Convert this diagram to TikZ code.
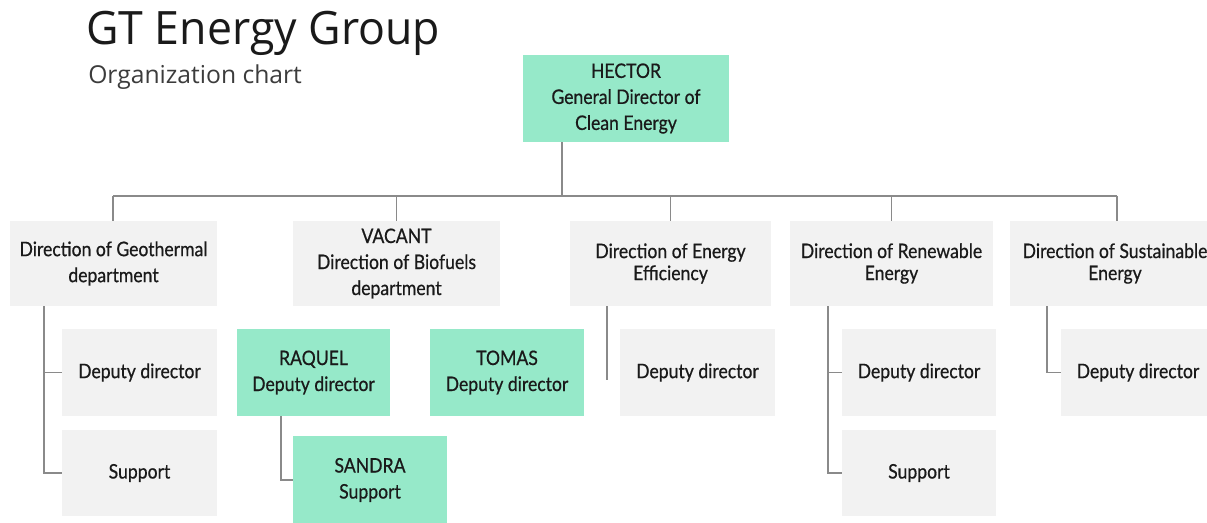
\documentclass[tikz,border=0pt]{standalone}
\usepackage{fontspec}
\newfontfamily\titlefont[FakeStretch=0.97]{Open Sans}
\newfontfamily\subfont[FakeStretch=1.0]{Open Sans}
\newfontfamily\boxfont[FakeStretch=0.88,FakeBold=0.6]{Lato}
\definecolor{mint}{HTML}{96E9C9}
\definecolor{lgray}{HTML}{F2F2F2}
\definecolor{linegray}{HTML}{8A8A8A}
\definecolor{txt}{HTML}{1A1A1A}
\tikzset{
  card/.style={inner sep=0pt, align=center, text=txt,
    font=\boxfont\fontsize{15pt}{19.5pt}\selectfont},
  tight/.style={font=\boxfont\fontsize{15pt}{16.5pt}\selectfont},
  graycard/.style={card, fill=lgray},
  mintcard/.style={card, fill=mint},
  link/.style={draw=linegray, line width=1pt}
}
\begin{document}
\begin{tikzpicture}[x=0.75pt,y=-0.75pt]
\useasboundingbox (0,0) rectangle (1207,523);
\fill[white] (0,0) rectangle (1207,523);
\begin{scope}
\clip (0,0) rectangle (1207,523);
% titles
\node[anchor=base west, inner sep=0pt, font=\titlefont\fontsize{34.5pt}{40pt}\selectfont, text=txt] (title) at (86,45) {GT Energy Group};
\node[anchor=base west, inner sep=0pt, font=\subfont\fontsize{18.5pt}{22pt}\selectfont, text=txt!85] (subtitle) at (88,84) {Organization chart};
% top
\node[mintcard, minimum width=154.5pt, minimum height=65.25pt] (hector) at (626,98.5) {HECTOR\\General Director of\\Clean Energy};
% level 2
\node[graycard, minimum width=155.25pt, minimum height=63.75pt] (geo) at (113.5,263.5) {Direction of Geothermal\\department};
\node[graycard, minimum width=155.25pt, minimum height=63.75pt] (bio) at (396.5,263.5) {VACANT\\Direction of Biofuels\\department};
\node[graycard, tight, minimum width=150.75pt, minimum height=63.75pt] (eff) at (670.5,263.5) {Direction of Energy\\Efficiency};
\node[graycard, tight, minimum width=152.25pt, minimum height=63.75pt] (ren) at (891.5,263.5) {Direction of Renewable\\Energy};
\node[graycard, tight, minimum width=157.5pt, minimum height=63.75pt] (sus) at (1115,263.5) {Direction of Sustainable\\Energy};
% level 3
\node[graycard, minimum width=116.25pt, minimum height=65.25pt] (geodep) at (139.5,372.5) {Deputy director};
\node[graycard, minimum width=116.25pt, minimum height=64.5pt] (geosup) at (139.5,473) {Support};
\node[mintcard, minimum width=114.75pt, minimum height=65.25pt] (raquel) at (313.5,372.5) {RAQUEL\\Deputy director};
\node[mintcard, minimum width=115.5pt, minimum height=65.25pt] (tomas) at (507,372.5) {TOMAS\\Deputy director};
\node[mintcard, minimum width=115.5pt, minimum height=65.25pt] (sandra) at (370,480) {SANDRA\\Support};
\node[graycard, minimum width=116.25pt, minimum height=65.25pt] (effdep) at (697.5,372.5) {Deputy director};
\node[graycard, minimum width=115.5pt, minimum height=65.25pt] (rendep) at (919,372.5) {Deputy director};
\node[graycard, minimum width=115.5pt, minimum height=64.5pt] (rensup) at (919,473) {Support};
\node[graycard, minimum width=115.5pt, minimum height=65.25pt] (susdep) at (1138,372.5) {Deputy director};
\end{scope}
% connectors
\coordinate (busL) at (113,196);
\coordinate (busR) at (1117,196);
\coordinate (hj) at (562,196);
\draw[link] (busL) -- (busR);
\draw[link] (hector.south -| hj) -- (hj);
\draw[link] (busL) -- (geo.north -| busL);
\draw[link] (bio.north |- busL) -- (bio.north);
\draw[link] (eff.north |- busL) -- (eff.north);
\draw[link] (ren.north |- busL) -- (ren.north);
\draw[link] (busR) -- (sus.north -| busR);
% geothermal children
\coordinate (gx) at (44,0);
\draw[link] (geo.south -| gx) |- (geosup.west);
\draw[link] (gx |- geodep.west) -- (geodep.west);
% biofuels
\coordinate (rx) at (281,0);
\draw[link] (raquel.south -| rx) |- (sandra.west);
% efficiency
\coordinate (effEnd) at (607,380);
\draw[link] (eff.south -| effEnd) -- (effEnd);
% renewable
\coordinate (nx) at (828,0);
\draw[link] (ren.south -| nx) |- (rensup.west);
\draw[link] (nx |- rendep.west) -- (rendep.west);
% sustainable
\coordinate (sx) at (1047,0);
\draw[link] (sus.south -| sx) |- (susdep.west);
\end{tikzpicture}
\end{document}
